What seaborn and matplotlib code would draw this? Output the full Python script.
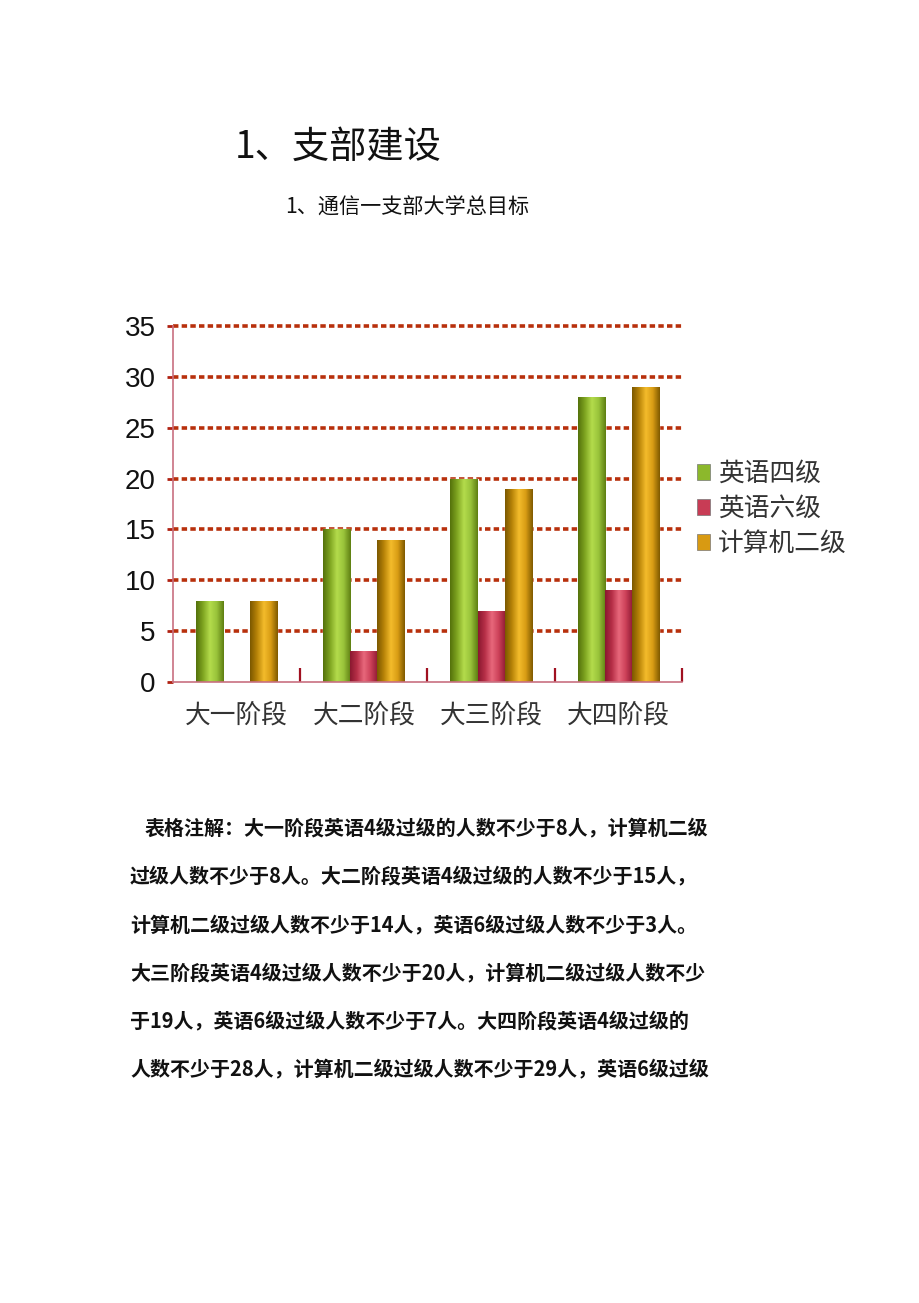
import numpy as np
import pandas as pd
import matplotlib
matplotlib.use("Agg")
import matplotlib.pyplot as plt
import seaborn as sns
from matplotlib.colors import LinearSegmentedColormap
from matplotlib.patches import Patch

# ---------------- data ----------------
stages = ["大一阶段", "大二阶段", "大三阶段", "大四阶段"]
series = ["英语四级", "英语六级", "计算机二级"]
cet4 = [8, 15, 20, 28]
cet6 = [0, 3, 7, 9]
ncre2 = [8, 14, 19, 29]
yticks = [0, 5, 10, 15, 20, 25, 30, 35]

title = "1、支部建设"
subtitle = "1、通信一支部大学总目标"
body_lines = [
    "表格注解：大一阶段英语4级过级的人数不少于8人，计算机二级",
    "过级人数不少于8人。大二阶段英语4级过级的人数不少于15人，",
    "计算机二级过级人数不少于14人，英语6级过级人数不少于3人。",
    "大三阶段英语4级过级人数不少于20人，计算机二级过级人数不少",
    "于19人，英语6级过级人数不少于7人。大四阶段英语4级过级的",
    "人数不少于28人，计算机二级过级人数不少于29人，英语6级过级",
]

df = pd.DataFrame({
    "stage": stages * 3,
    "series": [s for s in series for _ in stages],
    "value": cet4 + cet6 + ncre2,
})

# ---------------- style ----------------
sns.set_theme(style="white")
plt.rcParams["font.family"] = ["Noto Sans CJK SC", "DejaVu Sans"]

mid_colors = ["#8cb82c", "#c83c55", "#d89a12"]
grad_maps = [
    LinearSegmentedColormap.from_list("g", ["#55720c", "#7fa521", "#b4dc4c", "#98c23a", "#5f7f12"]),
    LinearSegmentedColormap.from_list("r", ["#8a1830", "#b83048", "#e8687c", "#cc4058", "#8e1a34"]),
    LinearSegmentedColormap.from_list("o", ["#7c5800", "#b88408", "#f4bc2c", "#d89c14", "#805a00"]),
]

W, H = 920, 1303
fig = plt.figure(figsize=(W / 100, H / 100), dpi=100)
fig.patch.set_facecolor("white")

ax_left, ax_right, ax_top, ax_bot = 173, 682, 326, 682
ax = fig.add_axes([ax_left / W, 1 - ax_bot / H, (ax_right - ax_left) / W, (ax_bot - ax_top) / H])

sns.barplot(data=df, x="stage", y="value", hue="series", palette=mid_colors,
            width=0.64, saturation=1, legend=False, ax=ax, zorder=3)

# gradient overlay on each bar
t = np.linspace(0, 1, 64)[None, :]
for cont, cmap in zip(ax.containers, grad_maps):
    for bar in cont:
        h = bar.get_height()
        if h <= 0:
            continue
        x0 = bar.get_x()
        x1 = x0 + bar.get_width()
        im = ax.imshow(t, extent=[x0, x1, 0, h], aspect="auto", cmap=cmap,
                       origin="lower", zorder=3.5, interpolation="bilinear")
        im.set_clip_path(bar)

ax.set_xlim(-0.5, 3.5)
ax.set_ylim(0, 35)
ax.set_yticks(yticks)
ax.set_xlabel("")
ax.set_ylabel("")

# grid
for yv in yticks[1:]:
    ax.axhline(yv, color="#b8300c", lw=2.6, ls=(0, (1.5, 0.9)), zorder=1, clip_on=False)

for s in ["top", "right"]:
    ax.spines[s].set_visible(False)
ax.spines["left"].set_color("#c87080")
ax.spines["bottom"].set_color("#c87080")
ax.spines["left"].set_linewidth(1.2)
ax.spines["bottom"].set_linewidth(1.2)
ax.spines["left"].set_zorder(5)
ax.spines["bottom"].set_zorder(5)

ax.tick_params(axis="y", which="major", direction="out", length=4, width=2,
               color="#b02010", labelsize=20, pad=8.5, left=True)
for lab in ax.get_yticklabels():
    lab.set_fontfamily(["Liberation Sans", "DejaVu Sans"])
    lab.set_color("#111111")

ax.set_xticks([0.5, 1.5, 2.5, 3.5], minor=True)
ax.tick_params(axis="x", which="minor", direction="in", length=10, width=1.6,
               color="#a01020", bottom=True)
ax.tick_params(axis="x", which="major", length=0, labelsize=18.5, pad=15,
               labelcolor="#333333")
for lab in ax.get_xticklabels():
    lab.set_fontweight("light")

# legend
handles = [Patch(facecolor=c, edgecolor="#777777", linewidth=0.5) for c in mid_colors]
leg = ax.legend(handles, series, loc="center left", bbox_to_anchor=(697 / W, 1 - 509 / H),
                bbox_transform=fig.transFigure, frameon=False, fontsize=18.5,
                handlelength=0.5, handleheight=0.6, handletextpad=0.33,
                labelspacing=0.36, borderpad=0, borderaxespad=0)
for txt in leg.get_texts():
    txt.set_color("#333333")
    txt.set_fontweight("light")

# texts
fig.text(235 / W, 1 - 147 / H, title, fontsize=26.8, va="center", ha="left", color="#111111")
fig.text(285 / W, 1 - 208 / H, subtitle, fontsize=15.2, va="center", ha="left", color="#111111")

line_y = [828, 876, 925, 973, 1021, 1069]
for i, (line, yy) in enumerate(zip(body_lines, line_y)):
    xx = 145 if i == 0 else 130
    fig.text(xx / W, 1 - yy / H, line, fontsize=14.4, fontweight="bold",
             va="center", ha="left", color="#111111")

fig.savefig("out.png", dpi=100, facecolor="white")
